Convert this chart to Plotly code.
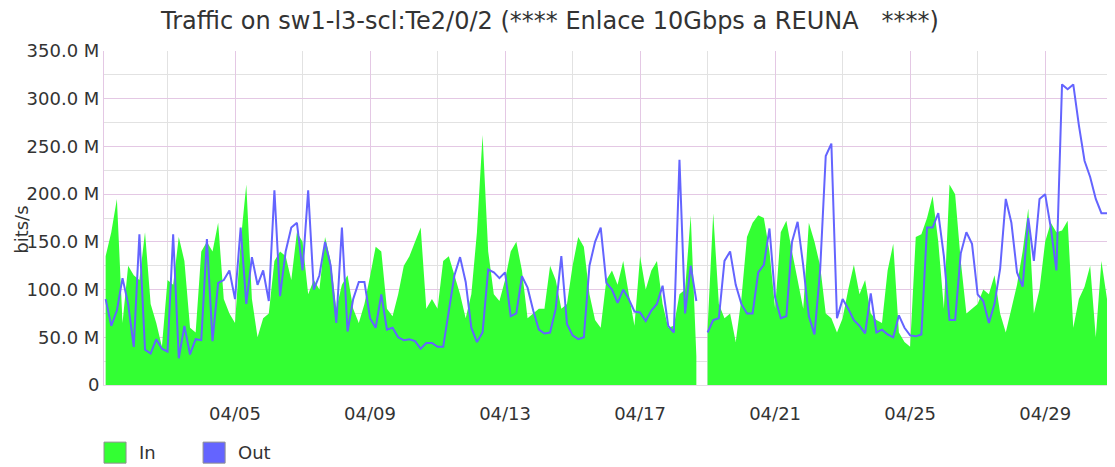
import pandas as pd
import plotly.graph_objects as go

# Samples every 4 hours starting 04/01 04:00; values in Mbit/s, None = no data
START = "2024-04-01 04:00"
STEP = "4h"

IN_MBPS = [
    135, 160, 195, 65, 125, 115, 110, 160, 85, 65,
    40, 110, 105, 155, 130, 60, 55, 140, 150, 140,
    170, 90, 75, 65, 150, 210, 90, 50, 70, 75,
    130, 140, 135, 110, 160, 150, 95, 110, 100, 155,
    130, 80, 105, 115, 80, 65, 85, 114, 145, 140,
    80, 72, 95, 125, 135, 150, 165, 80, 90, 80,
    130, 135, 115, 95, 70, 95, 160, 262, 140, 95,
    88, 110, 140, 150, 120, 70, 75, 80, 80, 125,
    110, 80, 85, 125, 155, 145, 95, 68, 60, 110,
    120, 105, 130, 95, 62, 135, 100, 120, 130, 85,
    60, 62, 95, 100, 178, 30, None, 60, 180, 85,
    70, 75, 45, 90, 155, 170, 178, 175, 140, 80,
    160, 172, 140, 110, 80, 170, 150, 125, 75, 70,
    55, 70, 100, 126, 95, 110, 75, 68, 65, 120,
    148, 55, 45, 40, 155, 158, 175, 198, 150, 80,
    210, 200, 130, 75, 80, 85, 100, 95, 115, 75,
    55, 80, 105, 140, 185, 75, 100, 150, 170, 160,
    162, 172, 60, 90, 103, 125, 50, 130, 90, 82,
]

OUT_MBPS = [
    90, 62, 78, 112, 85, 40, 158, 37, 33, 48,
    38, 35, 158, 28, 62, 32, 48, 47, 153, 46,
    107, 110, 120, 90, 165, 85, 134, 105, 120, 88,
    204, 93, 140, 165, 170, 120, 204, 100, 115, 150,
    125, 65, 165, 56, 90, 108, 108, 70, 60, 95,
    58, 60, 50, 47, 48, 46, 38, 44, 44, 40,
    40, 78, 115, 134, 108, 60, 45, 55, 121, 118,
    112, 118, 72, 75, 114, 102, 78, 58, 54, 55,
    80, 135, 64, 52, 48, 50, 125, 150, 165, 107,
    100, 86, 100, 90, 77, 76, 67, 78, 85, 104,
    62, 55, 236, 75, 125, 88, None, 55, 68, 70,
    130, 140, 105, 85, 75, 75, 118, 126, 164, 92,
    70, 72, 150, 171, 125, 72, 53, 120, 240, 253,
    70, 90, 80, 68, 62, 54, 96, 55, 58, 53,
    50, 73, 60, 52, 51, 53, 165, 165, 180, 135,
    68, 68, 138, 160, 148, 95, 88, 65, 85, 122,
    195, 170, 118, 103, 175, 130, 195, 200, 165, 120,
    315, 310, 315, 272, 235, 218, 195, 180, 180, 180,
]

Y_TICKS_M = [0, 50, 100, 150, 200, 250, 300, 350]
Y_TICK_TEXT = ["0", "50.0 M", "100.0 M", "150.0 M", "200.0 M",
               "250.0 M", "300.0 M", "350.0 M"]
Y_MINOR_M = [25, 75, 125, 175, 225, 275, 325]

TITLE = "Traffic on sw1-l3-scl:Te2/0/2 (**** Enlace 10Gbps a REUNA &nbsp; ****)"

GREEN = "#33FF33"
BLUE = "#6464FF"
MAJOR_GRID = "#E4C8E4"
MINOR_GRID = "#E2E2E2"
FONT = "DejaVu Sans"
TEXT = "#333333"

times = pd.date_range(START, periods=len(IN_MBPS), freq=STEP)
to_bits = lambda vals: [None if v is None else v * 1e6 for v in vals]


def runs(values):
    """split a series at its gaps so each piece gets its own fill"""
    out, cur = [], []
    for i, v in enumerate(values):
        if v is None:
            if cur:
                out.append(cur)
            cur = []
        else:
            cur.append(i)
    if cur:
        out.append(cur)
    return out


fig = go.Figure()
in_bits = to_bits(IN_MBPS)
for idx in runs(IN_MBPS):
    fig.add_trace(go.Scatter(
        x=[times[i] for i in idx], y=[in_bits[i] for i in idx], name="In",
        mode="none", fill="tozeroy", fillcolor=GREEN, showlegend=False,
    ))
fig.add_trace(go.Scatter(
    x=times, y=to_bits(OUT_MBPS), name="Out", mode="lines",
    line=dict(color=BLUE, width=2), showlegend=False,
))

# the page body adds an 8px offset, so the figure is 8px smaller each way
fig.update_layout(
    width=1107, height=459,
    margin=dict(l=96, r=0, t=43, b=82, autoexpand=False),
    paper_bgcolor="white", plot_bgcolor="white",
    font=dict(family=FONT, size=17, color=TEXT),
    title=dict(text=TITLE, x=0.4896, xanchor="center", y=0.991, yanchor="top",
               font=dict(family=FONT, size=24, color=TEXT)),
)
fig.update_xaxes(
    range=["2024-04-01 02:50", "2024-05-01 01:40"],
    tickformat="%m/%d", tick0="2024-04-05", dtick=4 * 86400000,
    showgrid=True, gridcolor=MAJOR_GRID, gridwidth=1,
    minor=dict(tick0="2024-04-03", dtick=2 * 86400000, showgrid=True,
               gridcolor=MINOR_GRID, gridwidth=1),
    ticks="", ticklabelstandoff=12, automargin=False,
    showline=True, linecolor="#E6DCE6", linewidth=1,
    zeroline=False, tickfont=dict(size=18),
)
fig.update_yaxes(
    range=[0, 350e6],
    tickvals=[v * 1e6 for v in Y_TICKS_M], ticktext=Y_TICK_TEXT,
    showgrid=True, gridcolor=MAJOR_GRID, gridwidth=1,
    minor=dict(tickvals=[v * 1e6 for v in Y_MINOR_M], showgrid=True,
               gridcolor=MINOR_GRID, gridwidth=1),
    ticks="", ticklabelstandoff=0, automargin=False,
    showline=True, linecolor="#E4C8E4", linewidth=1,
    zeroline=False, tickfont=dict(size=18),
)

# axis caption
fig.add_annotation(text="bits/s", textangle=-90, xref="paper", yref="paper",
                   x=-0.081, y=0.465, xanchor="center", yanchor="middle",
                   showarrow=False, font=dict(family=FONT, size=18, color=TEXT))

# legend drawn as boxes + labels
for x0, color, label in [(0.0, GREEN, "In"), (0.098, BLUE, "Out")]:
    fig.add_shape(type="rect", xref="paper", yref="paper",
                  x0=x0, x1=x0 + 0.0218, y0=-0.234, y1=-0.171,
                  fillcolor=color, line=dict(color="#909090", width=1))
    fig.add_annotation(text=label, xref="paper", yref="paper",
                       x=x0 + 0.0325, y=-0.202, xanchor="left", yanchor="middle",
                       showarrow=False, font=dict(family=FONT, size=18, color=TEXT))

fig.write_html("out.html")
